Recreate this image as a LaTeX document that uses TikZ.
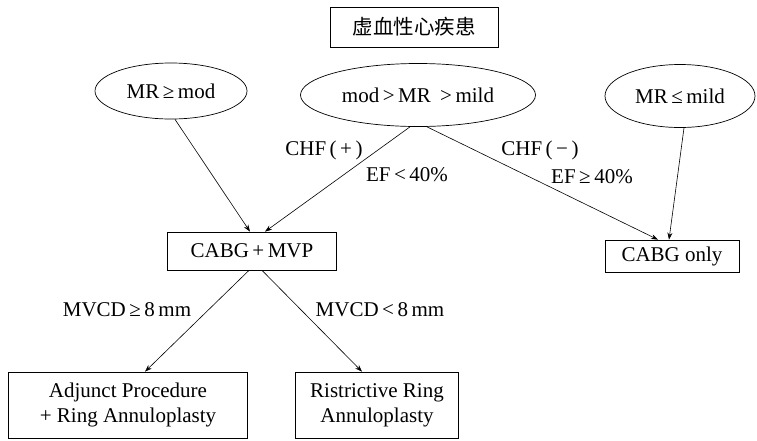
\documentclass[tikz,border=0pt]{standalone}
\usepackage{fontspec}
\setmainfont{Liberation Serif}
\newfontfamily\cjk{Noto Sans CJK SC}
\usetikzlibrary{shapes.geometric,arrows.meta,calc}
\begin{document}
\begin{tikzpicture}[x=1pt,y=-1pt,
  txt/.style={font=\fontsize{21}{25}\selectfont},
  boxnode/.style={draw,line width=0.7pt,inner sep=0pt,align=center,txt},
  ellnode/.style={draw,ellipse,line width=0.7pt,inner sep=0pt,txt},
  conn/.style={line width=0.6pt,-{Stealth[length=7pt,width=5pt]}},
  lbl/.style={txt,inner sep=0pt}]
\useasboundingbox (0,0) rectangle (757,440);
\node[boxnode,minimum width=168pt,minimum height=40pt,font=\cjk\fontsize{20.5}{22}\selectfont] (top) at (414,27) {虚血性心疾患};
\node[ellnode,minimum width=152pt,minimum height=56pt] (e1) at (171,91) {MR\,≥\,mod};
\node[ellnode,minimum width=235pt,minimum height=63pt] (e2) at (418,95) {mod\,>\,MR\;\,>\,mild};
\node[ellnode,minimum width=150pt,minimum height=63pt] (e3) at (680,96) {MR\,≤\,mild};
\node[boxnode,minimum width=169pt,minimum height=38pt] (cm) at (252,251) {CABG\,+\,MVP};
\node[boxnode,minimum width=134pt,minimum height=32pt] (co) at (672,256) {CABG only};
\node[boxnode,minimum width=239pt,minimum height=66pt] (ad) at (128,405) {Adjunct Procedure\\+ Ring Annuloplasty};
\node[boxnode,minimum width=163pt,minimum height=66pt] (ri) at (377,405) {Ristrictive Ring\\Annuloplasty};
\draw[conn] ($(e1.south)+(4,0)$) -- ($(cm.north)+(-2,0)$);
\draw[conn] ($(e2.south)+(-8,0)$) -- ($(cm.north)+(13,0)$);
\draw[conn] ($(e2.south)+(9,0)$) -- ($(co.north)+(-14,0)$);
\draw[conn] ($(e3.south)+(4,0)$) -- ($(co.north)+(-3,0)$);
\draw[conn] ($(cm.south)+(-3,0)$) -- ($(ad.north)+(17,0)$);
\draw[conn] ($(cm.south)+(10,0)$) -- ($(ri.north)+(-15,0)$);
\node[lbl] (l1) at (324,150) {CHF\,(\,+\,)};
\node[lbl] (l2) at (407,175) {EF\,<\,40\%};
\node[lbl] (l3) at (540,150) {CHF\,(\,−\,)};
\node[lbl] (l4) at (592,177) {EF\,≥\,40\%};
\node[lbl] (l5) at (127,310) {MVCD\,≥\,8\,mm};
\node[lbl] (l6) at (380,310) {MVCD\,<\,8\,mm};
\end{tikzpicture}
\end{document}
